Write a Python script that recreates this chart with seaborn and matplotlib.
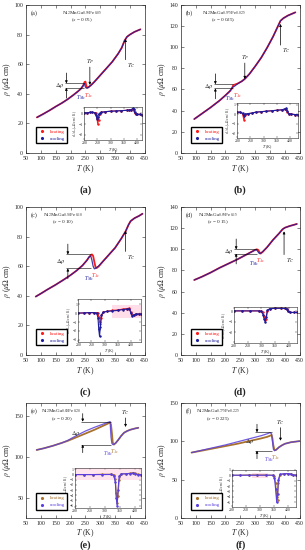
import matplotlib
matplotlib.use('Agg')
import numpy as np
import pandas as pd
import matplotlib.pyplot as plt
import seaborn as sns
from matplotlib.lines import Line2D

sns.set_style('ticks')
plt.rcParams['font.family'] = ['Liberation Serif', 'DejaVu Serif']
plt.rcParams['mathtext.fontset'] = 'stix'
plt.rcParams['xtick.direction'] = 'in'
plt.rcParams['ytick.direction'] = 'in'
plt.rcParams['axes.linewidth'] = 0.5

# ---- main resistivity curves (T in K, rho in uOhm cm) ----
T_a = [87, 110, 130, 150, 170, 190, 210, 225, 235, 242, 247, 250, 253, 256, 260, 270, 280, 300, 320, 340, 360, 372, 382, 390, 400, 415, 435]
rho_a_heat = [24, 26.5, 28.8, 31.3, 33.6, 36.2, 39.2, 41.6, 43.4, 45.2, 47.8, 48.2, 45.5, 44, 44.3, 46, 48, 52.5, 57, 61.5, 67, 71, 76, 78.5, 80, 81.8, 83.5]
rho_a_cool = [24, 26.5, 28.8, 31.3, 33.6, 36.2, 39.2, 41.6, 43.4, 45.5, 46.8, 44.5, 43.8, 43.9, 44.3, 46, 48, 52.5, 57, 61.5, 67, 71, 76, 78.5, 80, 81.8, 83.5]

T_b = [95, 120, 150, 180, 200, 215, 222, 226, 230, 240, 255, 265, 280, 300, 320, 340, 360, 375, 385, 395, 410, 435]
rho_b_heat = [32, 37, 43, 49.5, 54.5, 58.5, 61, 64, 64.5, 65.5, 67.8, 70, 74.5, 82, 90, 99.5, 110, 119, 125, 127.5, 130, 133]
rho_b_cool = [32, 37, 43, 49.5, 54.5, 58.5, 61.5, 62.5, 63, 65.2, 67.8, 70, 74.5, 82, 90, 99.5, 110, 119, 125, 127.5, 130, 133]

T_c = [83, 100, 120, 150, 180, 200, 220, 240, 255, 262, 268, 272, 276, 280, 284, 288, 295, 310, 330, 350, 370, 385, 395, 402, 415, 430, 442]
rho_c_heat = [39.5, 41.5, 44, 47.5, 51.3, 54, 57, 60.5, 64, 66, 67.5, 68, 67, 63, 59.5, 58.8, 60, 63.5, 68, 72.5, 78.5, 83.5, 88, 90.5, 92.5, 94, 95.5]
rho_c_cool = [39.5, 41.5, 44, 47.5, 51.3, 54, 57, 60.5, 64, 66.3, 67, 64, 60, 58.3, 58.5, 59.2, 60.2, 63.5, 68, 72.5, 78.5, 83.5, 88, 90.5, 92.5, 94, 95.5]

T_d = [95, 120, 150, 180, 210, 240, 270, 290, 300, 305, 310, 314, 318, 325, 340, 360, 380, 392, 400, 415, 440]
rho_d_heat = [71, 74, 78, 82.5, 86.5, 90.5, 95, 98, 99.5, 100, 99.5, 97.5, 96, 97.5, 102, 109, 115, 119, 120.5, 122, 124]
rho_d_cool = [71, 74, 78, 82.5, 86.5, 90.5, 95, 98, 99.5, 99.5, 97.5, 96, 96.3, 97.8, 102, 109, 115, 119, 120.5, 122, 124]

T_e = [86, 110, 140, 170, 190, 220, 250, 280, 310, 325, 333, 336, 339, 342, 346, 352, 360, 370, 380, 390, 400, 415, 428]
rho_e_heat = [109, 111, 114, 117.5, 120, 124.5, 129, 133.5, 138.5, 141, 142.5, 140, 130, 118, 115.5, 117.5, 121, 126, 130, 132, 133.5, 135, 136]
rho_e_cool = [109, 111, 114, 117.5, 120.5, 126.5, 132, 136.5, 140.5, 142.5, 143.5, 125, 117, 115.5, 116, 117.5, 121, 126, 130, 132, 133.5, 135, 136]

T_f = [86, 120, 160, 200, 240, 280, 320, 340, 350, 355, 358, 361, 365, 370, 380, 390, 400, 420, 450]
rho_f_heat = [85.5, 88, 91, 94, 97, 100.5, 104, 106, 107.5, 108.5, 104, 95, 88.5, 89, 92.5, 95, 97, 99, 100.5]
rho_f_cool = [85.5, 88.5, 92, 95.5, 99.5, 103.5, 107.5, 110, 111.5, 110, 100, 90, 88, 89, 92.5, 95, 97, 99, 100.5]

# ---- inset derivative curves d rho / dT ----
iT_a = [200, 210, 220, 230, 240, 245, 248, 251, 254, 258, 265, 280, 300, 320, 340, 360, 370, 378, 383, 387, 390, 394, 400, 410, 420]
drho_a_cool = [0.05, 0.05, 0.08, 0.1, 0.05, -0.2, -0.5, -0.3, -0.1, 0.0, 0.1, 0.15, 0.2, 0.22, 0.25, 0.28, 0.3, 0.35, 0.45, 0.4, 0.1, -0.05, -0.1, -0.1, -0.15]
drho_a_heat = [0.05, 0.05, 0.08, 0.1, 0.05, 0.0, -0.4, -1.0, -0.6, -0.1, 0.1, 0.15, 0.2, 0.22, 0.25, 0.28, 0.3, 0.35, 0.4, 0.3, 0.05, -0.05, -0.1, -0.1, -0.15]

iT_b = [200, 210, 220, 225, 230, 240, 255, 270, 290, 310, 330, 350, 370, 380, 385, 390, 395, 405, 420, 430]
drho_b_cool = [0.2, 0.2, 0.1, -0.2, 0.0, 0.05, 0.1, 0.2, 0.25, 0.3, 0.35, 0.4, 0.45, 0.55, 0.6, 0.3, 0.05, 0.0, -0.05, -0.05]
drho_b_heat = [0.2, 0.2, 0.05, -0.6, -0.1, 0.05, 0.1, 0.2, 0.25, 0.3, 0.35, 0.4, 0.45, 0.5, 0.55, 0.25, 0.05, 0.0, -0.05, -0.05]

iT_c = [200, 220, 240, 260, 270, 275, 278, 281, 284, 288, 295, 310, 330, 350, 370, 385, 395, 400, 405, 412, 420, 430, 440]
drho_c_cool = [0.0, 0.02, 0.05, 0.05, 0.0, -0.5, -1.8, -2.6, -1.5, -0.2, 0.1, 0.2, 0.25, 0.3, 0.4, 0.45, 0.5, 0.0, -0.3, -0.2, -0.1, -0.1, -0.1]
drho_c_heat = [0.0, 0.02, 0.05, 0.05, 0.05, 0.0, -0.4, -1.0, -1.2, -0.5, 0.1, 0.2, 0.3, 0.35, 0.45, 0.5, 0.55, 0.1, -0.2, -0.2, -0.1, -0.1, -0.1]

iT_d = [200, 230, 260, 290, 300, 306, 310, 314, 318, 322, 330, 350, 370, 385, 392, 398, 405, 420, 430]
drho_d_cool = [0.05, 0.05, 0.05, 0.05, 0.0, -0.3, -0.7, -1.0, -0.5, 0.1, 0.25, 0.3, 0.3, 0.28, 0.2, 0.0, -0.1, -0.1, -0.1]
drho_d_heat = [0.05, 0.05, 0.05, 0.05, 0.02, -0.1, -0.4, -0.8, -0.7, 0.0, 0.25, 0.3, 0.3, 0.28, 0.2, 0.0, -0.1, -0.1, -0.1]

iT_e = [200, 230, 260, 290, 320, 330, 335, 338, 341, 344, 348, 355, 370, 385, 395, 400, 410, 420]
drho_e_cool = [0.0, 0.0, 0.0, 0.0, 0.02, -0.2, -1.5, -4.5, -6.0, -3.0, -0.3, 0.15, 0.15, 0.2, 0.3, 0.2, 0.0, 0.0]
drho_e_heat = [0.0, 0.0, 0.0, 0.05, 0.05, 0.0, -0.8, -3.5, -5.5, -4.2, -1.0, 0.1, 0.15, 0.25, 0.35, 0.3, 0.05, 0.0]

iT_f = [200, 230, 260, 290, 320, 345, 352, 356, 360, 363, 366, 372, 385, 400, 410, 420, 430]
drho_f_cool = [0.0, 0.0, 0.0, 0.0, 0.0, 0.0, -0.5, -2.5, -5.0, -3.5, -0.8, 0.2, 0.25, 0.3, 0.2, 0.0, 0.0]
drho_f_heat = [0.0, 0.0, 0.05, 0.05, 0.05, 0.0, -0.2, -1.5, -4.0, -4.5, -1.5, 0.1, 0.25, 0.3, 0.25, 0.05, 0.0]

compositions = ['Ni$_2$MnGa$_{0.95}$Fe$_{0.05}$', 'Ni$_2$MnGa$_{0.975}$Fe$_{0.025}$',
                'Ni$_2$MnGa$_{0.90}$Fe$_{0.10}$', 'Ni$_2$MnGa$_{0.85}$Fe$_{0.15}$',
                'Ni$_2$MnGa$_{0.80}$Fe$_{0.20}$', 'Ni$_2$MnGa$_{0.775}$Fe$_{0.225}$']
x_values = ['0.05', '0.025', '0.10', '0.15', '0.20', '0.225']
letters = ['a', 'b', 'c', 'd', 'e', 'f']

RED, BLUE = '#ff1a1a', '#1c1c9e'
BROWN, PURPLE = '#a8722e', '#5a3ee0'

panels = [
    dict(T=T_a, heat=rho_a_heat, cool=rho_a_cool, iT=iT_a, ih=drho_a_heat, ic=drho_a_cool,
         pos=[0.085, 0.722, 0.39, 0.269], ylim=(0, 100), yt=np.arange(0, 101, 20),
         ins=[0.49, 0.086, 0.49, 0.225], iylim=(-2.5, 0.6), iyt=[-2, -1, 0], ixlim=(200, 420),
         cols=(RED, BLUE), ctxt=0.47, dr=(47, 44, 180, 245), tc=(385, 63, 77), tp=(265, 58, 46)),
    dict(T=T_b, heat=rho_b_heat, cool=rho_b_cool, iT=iT_b, ih=drho_b_heat, ic=drho_b_cool,
         pos=[0.593, 0.722, 0.39, 0.269], ylim=(0, 140), yt=np.arange(0, 141, 20),
         ins=[0.474, 0.10, 0.51, 0.24], iylim=(-2.5, 1.2), iyt=[-2, -1, 0, 1], ixlim=(200, 430),
         cols=(RED, BLUE), ctxt=0.36, dr=(65, 61, 160, 225), tc=(385, 102, 122), tp=(265, 85, 70)),
    dict(T=T_c, heat=rho_c_heat, cool=rho_c_cool, iT=iT_c, ih=drho_c_heat, ic=drho_c_cool,
         pos=[0.085, 0.3545, 0.39, 0.269], ylim=(0, 100), yt=np.arange(0, 101, 20),
         ins=[0.44, 0.09, 0.53, 0.29], iylim=(-3.2, 1.6), iyt=[-3, -2, -1, 0, 1], ixlim=(200, 440),
         cols=(RED, BLUE), ctxt=0.31, dr=(68, 58.5, 185, 270), tc=(385, 70, 84), tp=None),
    dict(T=T_d, heat=rho_d_heat, cool=rho_d_cool, iT=iT_d, ih=drho_d_heat, ic=drho_d_cool,
         pos=[0.593, 0.3545, 0.39, 0.269], ylim=(0, 140), yt=np.arange(0, 141, 20),
         ins=[0.446, 0.083, 0.53, 0.24], iylim=(-3, 0.4), iyt=[-2, -1, 0], ixlim=(200, 430),
         cols=(RED, BLUE), ctxt=0.31, dr=(100, 96, 230, 305), tc=(397, 95, 117), tp=None),
    dict(T=T_e, heat=rho_e_heat, cool=rho_e_cool, iT=iT_e, ih=drho_e_heat, ic=drho_e_cool,
         pos=[0.085, 0.058, 0.39, 0.209], ylim=(26, 166), yt=[50, 100, 150],
         ins=[0.414, 0.087, 0.55, 0.35], iylim=(-6.5, 1.3), iyt=[-6, -5, -4, -3, -2, -1, 0, 1], ixlim=(200, 420),
         cols=(BROWN, PURPLE), ctxt=0.30, dr=(143.5, 115.5, 235, 335), tc=(385, 148, 137), tp=None),
    dict(T=T_f, heat=rho_f_heat, cool=rho_f_cool, iT=iT_f, ih=drho_f_heat, ic=drho_f_cool,
         pos=[0.593, 0.058, 0.39, 0.209], ylim=(0, 150), yt=[0, 50, 100, 150],
         ins=[0.43, 0.10, 0.54, 0.32], iylim=(-5.8, 1), iyt=[-5, -4, -3, -2, -1, 0, 1], ixlim=(200, 430),
         cols=(BROWN, PURPLE), ctxt=0.31, dr=(112, 88, 300, 355), tc=(385, 118, 101), tp=None),
]

arrow_kw = dict(arrowstyle='-|>', lw=0.5, color='k', mutation_scale=3.5, shrinkA=0, shrinkB=0)

fig = plt.figure(figsize=(3.05, 5.5), dpi=100)

for i, p in enumerate(panels):
    ax = fig.add_axes(p['pos'])
    hc, cc = p['cols']
    hpx = p['pos'][3] * 550  # axes height in pixels
    df = pd.DataFrame({'T': p['T'] * 2, 'rho': p['heat'] + p['cool'],
                       'mode': ['heating'] * len(p['T']) + ['cooling'] * len(p['T'])})
    sns.lineplot(data=df[df['mode'] == 'heating'], x='T', y='rho', color=hc, lw=1.3, ax=ax, legend=False)
    sns.lineplot(data=df[df['mode'] == 'cooling'], x='T', y='rho', color=cc, lw=0.9, alpha=0.85, ax=ax, legend=False)

    ax.set_xlim(50, 450)
    ax.set_xticks(np.arange(50, 451, 50))
    ax.set_ylim(*p['ylim'])
    ax.set_yticks(p['yt'])
    ax.tick_params(labelsize=4.2, length=2, width=0.4, top=True, right=True, pad=2)
    ax.set_xlabel('$T$ (K)', fontsize=5.5, labelpad=2 if i < 4 else 1)
    ax.set_ylabel(r'$\rho$ ($\mu\Omega$ cm)', fontsize=5.5, labelpad=1)

    y1 = 1 - 8 / hpx
    ax.text(0.04, y1, '(%s)' % letters[i], transform=ax.transAxes, fontsize=4.5, va='center')
    ax.text(p['ctxt'], y1, compositions[i], transform=ax.transAxes, fontsize=3.7, ha='center', va='center')
    ax.text(p['ctxt'], y1 - 7.5 / hpx, '($x$ = %s)' % x_values[i], transform=ax.transAxes, fontsize=3.7, ha='center', va='center')

    # delta rho marker
    top, bot, x0, x1 = p['dr']
    span = p['ylim'][1] - p['ylim'][0]
    ax.hlines([top, bot], x0, x1, color='k', lw=0.4)
    ax.annotate('', xy=(x0 + 6, top), xytext=(x0 + 6, top + 0.07 * span), arrowprops=arrow_kw)
    ax.annotate('', xy=(x0 + 6, bot), xytext=(x0 + 6, bot - 0.07 * span), arrowprops=arrow_kw)
    ax.text(x0 - 2, (top + bot) / 2, r'$\Delta\rho$', fontsize=4.5, ha='right', va='center')
    ax.text(x1 - 10, bot - 0.035 * span, '$T_{Ms}$', color=cc, fontsize=4.0, ha='center', va='top')
    ax.text(x1 + 14, bot - 0.02 * span, '$T_{As}$', color=hc, fontsize=4.0, ha='center', va='top')

    # Curie temperature arrow
    tx, ty0, ty1 = p['tc']
    ax.annotate('', xy=(tx, ty1), xytext=(tx, ty0), arrowprops=arrow_kw)
    if ty1 > ty0:
        ax.text(tx + 6, ty0 - 0.01 * span, '$T_C$', fontsize=4.5, va='top')
    else:
        ax.text(tx, ty0 + 0.01 * span, '$T_C$', fontsize=4.5, va='bottom', ha='center')
    if p['tp'] is not None:
        px, py0, py1 = p['tp']
        ax.annotate('', xy=(px, py1), xytext=(px, py0), arrowprops=arrow_kw)
        ax.text(px, py0 + 0.01 * span, '$T_P$', fontsize=4.5, ha='center', va='bottom')

    handles = [Line2D([], [], color=hc, marker='.', ls='none', markersize=2.5),
               Line2D([], [], color=cc, marker='.', ls='none', markersize=2.5)]
    ax.legend(handles, ['heating', 'cooling'], loc='lower left', bbox_to_anchor=(0.06, 0.05),
              fontsize=3.6, frameon=True, fancybox=False, edgecolor='black', framealpha=1,
              labelcolor=[hc, cc], handletextpad=0.8, borderpad=0.5, handlelength=1.5)

    # inset: derivative
    ia = ax.inset_axes(p['ins'])
    if letters[i] == 'c':
        ia.axvspan(330, 440, ymin=0.55, ymax=0.85, color='#ffc8dc', alpha=0.6, lw=0)
    if letters[i] == 'e':
        ia.axhspan(-1.0, 1.3, color='#ffc8dc', alpha=0.5, lw=0)
    if letters[i] == 'f':
        ia.axvspan(270, 330, ymin=0.78, ymax=0.9, color='#ffc8dc', alpha=0.6, lw=0)
    idf = pd.DataFrame({'T': p['iT'], 'heat': p['ih'], 'cool': p['ic']})
    sns.lineplot(data=idf, x='T', y='heat', color=hc, lw=0.8, marker='.', markersize=2, mec=hc, ax=ia)
    sns.lineplot(data=idf, x='T', y='cool', color=cc, lw=0.8, marker='.', markersize=2, mec=cc, ax=ia)
    ia.set_xlim(*p['ixlim'])
    ia.set_xticks([200, 250, 300, 350, 400])
    ia.set_ylim(*p['iylim'])
    ia.set_yticks(p['iyt'])
    ia.tick_params(labelsize=2.8, length=1.2, width=0.3, top=True, right=True, pad=0.8)
    for s in ia.spines.values():
        s.set_linewidth(0.4)
    ia.set_xlabel('$T$ (K)', fontsize=3.0, labelpad=0.3)
    ia.set_ylabel(r'd$\rho$/d$T$ ($\mu\Omega$ cm / K)', fontsize=2.4, labelpad=0.3)

    fig.text(p['pos'][0] + p['pos'][2] / 2, p['pos'][1] - (0.067 if i < 4 else 0.049),
             '(%s)' % letters[i], fontsize=7.5, fontweight='bold', ha='center', va='center')

fig.savefig('out.png', dpi=100)
